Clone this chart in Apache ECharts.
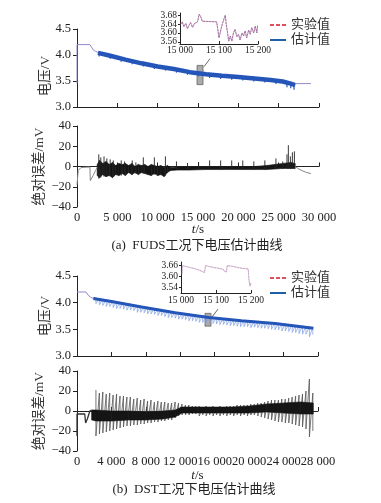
<!DOCTYPE html>
<html>
<head>
<meta charset="utf-8">
<script src="https://cdn.jsdelivr.net/npm/echarts@6/dist/echarts.min.js"></script>
<style>
  html, body { margin: 0; padding: 0; background: #fff; }
  #chart { width: 381px; height: 503px; }
</style>
</head>
<body>
<div id="chart"></div>
<script>
// ---------- tick labels ----------
const fudsXTicks = ['0', '5 000', '10 000', '15 000', '20 000', '25 000', '30 000'];
const dstXTicks = ['0', '4 000', '8 000', '12 000', '16 000', '20 000', '24 000', '28 000'];
const voltTicks = ['3.0', '3.5', '4.0', '4.5'];
const errTicks = ['−40', '−20', '0', '20', '40'];
const insetXTicks = ['15 000', '15 100', '15 200'];
const insetAYTicks = [3.56, 3.60, 3.64, 3.68];
const insetBYTicks = [3.54, 3.60, 3.66];

// ---------- (a) FUDS voltage ----------
const fudsPreT = [0, 0, 1600, 1800, 2000, 2300, 2600];
const fudsPreV = [3.45, 4.2, 4.2, 4.15, 4.1, 4.07, 4.05];
const fudsTailT = [27050, 29000];
const fudsTailV = [3.45, 3.45];
const fudsBandT = [2600, 4000, 6000, 8000, 10000, 12000, 14000, 16000, 18000, 20000, 22000, 24000, 25500, 26500, 27050];
const fudsEstV = [4.04, 3.99, 3.91, 3.84, 3.78, 3.73, 3.67, 3.63, 3.60, 3.575, 3.55, 3.52, 3.49, 3.45, 3.42];
const fudsExpV = [4.05, 3.995, 3.915, 3.845, 3.785, 3.735, 3.675, 3.635, 3.605, 3.58, 3.555, 3.525, 3.495, 3.455, 3.425];
const fudsVSpikeT = [2740, 4110, 5480, 6850, 8220, 9590, 10960, 12330, 13700, 15070, 16440, 17810, 19180, 20550, 21920, 23290, 24660, 26030, 26500, 26900];
const fudsVSpikeTop = [4.05, 4.0, 3.945, 3.89, 3.845, 3.80, 3.765, 3.73, 3.69, 3.66, 3.63, 3.61, 3.595, 3.58, 3.56, 3.54, 3.515, 3.48, 3.47, 3.44];
const fudsVSpikeLow = [3.97, 3.93, 3.87, 3.82, 3.78, 3.73, 3.70, 3.66, 3.62, 3.59, 3.56, 3.54, 3.525, 3.51, 3.49, 3.47, 3.44, 3.38, 3.36, 3.33];

// ---------- (a) FUDS error ----------
const fudsErrPreT = [0, 150, 500, 1600, 1650, 2000, 2300, 2500];
const fudsErrPreV = [-18, -4, -1, -0.5, -14, -9, -4, -1];
const fudsErrTailT = [27050, 27500, 28000, 28500, 29000];
const fudsErrTailV = [0, -2.5, -4.5, -6, -7];
const fudsErrBandT = [2500, 2800, 3200, 3600, 4000, 4400, 4800, 5200, 5600, 6000, 6400, 6800, 7200, 7600, 8000, 8400, 8800, 9200, 9600, 10000, 10400, 10800, 11200, 11600, 12500, 14000, 16000, 18000, 20000, 22000, 23500, 24500, 25500, 26500, 27050];
const fudsErrBandHi = [2, 6, 3, 5, 2, 4, 1, 3, 2, 3, 1, 3, 0, 2, 1, 2, 0, 2, 1, 0, 1, -1, 1, -1, -0.5, -0.5, -0.5, -0.5, 0, 0, 1, 2, 3, 4, 3];
const fudsErrBandLo = [-9, -11, -8, -10, -9, -11, -8, -9, -7, -9, -6, -8, -6, -8, -6, -7, -8, -9, -7, -9, -8, -10, -6, -4, -3.5, -3.5, -3, -3, -3, -3, -3, -2.5, -2, -2, -2];
const fudsErrSpikeT = [2700, 2950, 3350, 3700, 4110, 4500, 5480, 5900, 6850, 7300, 8220, 9590, 10960, 12330, 13700, 15070, 16440, 17810, 19180, 20550, 21920, 23290, 24660, 25500, 26030, 26200, 26450, 26700, 26950];
const fudsErrSpikeHi = [12, 9, 10, 8, 7, 6, 6, 5, 6, 4, 9, 9, 10, 5, 3.5, 4.5, 6, 6, 6, 6, 5, 6, 8, 5, 12, 21, 10, 14, 15];
const fudsErrSpikeLo = [-12, -11, -10, -9, -9, -10, -9, -8, -8, -7, -7, -8, -9, -3, -3, -3, -3, -3, -3, -3, -3, -3, -2, -2, -2, -2, -2, -2, -2];

// ---------- (a) inset 15 000–15 200 s ----------
const insetAT = [15002, 15006, 15010, 15015, 15019, 15023, 15027, 15032, 15036, 15040, 15045, 15049, 15053, 15057, 15094, 15097, 15100, 15105, 15109, 15113, 15116, 15118, 15122, 15125, 15129, 15133, 15137, 15141, 15146, 15150, 15154, 15159, 15163, 15167, 15171, 15176, 15180, 15184, 15189, 15193, 15197, 15199];
const insetAV = [3.639, 3.65, 3.628, 3.643, 3.619, 3.634, 3.647, 3.625, 3.64, 3.631, 3.65, 3.685, 3.674, 3.653, 3.65, 3.648, 3.578, 3.616, 3.643, 3.665, 3.68, 3.647, 3.60, 3.563, 3.586, 3.563, 3.60, 3.616, 3.583, 3.594, 3.568, 3.60, 3.586, 3.609, 3.578, 3.613, 3.594, 3.624, 3.60, 3.631, 3.60, 3.634];

// ---------- (b) DST voltage ----------
const dstPreT = [0, 1050, 1300, 1600, 1900];
const dstPreV = [4.2, 4.2, 4.14, 4.10, 4.08];
const dstTrendT = [1900, 4000, 7500, 11400, 15300, 19100, 23000, 27450];
const dstEstV = [4.08, 4.02, 3.92, 3.81, 3.72, 3.66, 3.61, 3.52];
const dstExpV = [4.09, 4.03, 3.925, 3.815, 3.725, 3.665, 3.615, 3.525];
const dstT = [2200, 2600, 3000, 3400, 3800, 4200, 4600, 5000, 5400, 5800,
  6200, 6600, 7000, 7400, 7800, 8200, 8600, 9000, 9400, 9800,
  10200, 10600, 11000, 11400, 11800, 12200, 12600, 13000, 13400, 13800,
  14200, 14600, 15000, 15400, 15800, 16200, 16600, 17000, 17400, 17800,
  18200, 18600, 19000, 19400, 19800, 20200, 20600, 21000, 21400, 21800,
  22200, 22600, 23000, 23400, 23800, 24200, 24600, 25000, 25400, 25800,
  26200, 26600, 27000, 27400];
const dstVTop = [4.09, 4.08, 4.07, 4.06, 4.05, 4.03, 4.02, 4.01, 4.00, 3.99,
  3.98, 3.97, 3.95, 3.94, 3.93, 3.92, 3.91, 3.90, 3.89, 3.88,
  3.86, 3.85, 3.84, 3.83, 3.82, 3.81, 3.80, 3.79, 3.78, 3.77,
  3.76, 3.75, 3.74, 3.74, 3.73, 3.72, 3.72, 3.71, 3.70, 3.70,
  3.69, 3.68, 3.68, 3.67, 3.67, 3.66, 3.66, 3.65, 3.65, 3.64,
  3.64, 3.63, 3.63, 3.62, 3.61, 3.61, 3.60, 3.59, 3.58, 3.57,
  3.57, 3.56, 3.55, 3.54];
const dstVLow = [3.98, 3.96, 3.95, 3.93, 3.93, 3.91, 3.89, 3.89, 3.88, 3.86,
  3.86, 3.85, 3.82, 3.82, 3.81, 3.79, 3.79, 3.78, 3.76, 3.76,
  3.74, 3.72, 3.72, 3.71, 3.69, 3.69, 3.68, 3.66, 3.66, 3.65,
  3.63, 3.63, 3.62, 3.61, 3.61, 3.60, 3.59, 3.59, 3.58, 3.57,
  3.57, 3.56, 3.55, 3.55, 3.55, 3.53, 3.54, 3.53, 3.52, 3.52,
  3.51, 3.50, 3.49, 3.49, 3.47, 3.47, 3.46, 3.44, 3.44, 3.42,
  3.41, 3.41, 3.36, 3.40];

// ---------- (b) DST error ----------
const dstErrPreT = [0, 0, 900, 1000, 1200, 1500, 1700];
const dstErrPreV = [-25, -3, -3, -12, -8, 0, 1];
const dstErrBandT = [1700, 2200, 4000, 6000, 8000, 10000, 11400, 12200, 14000, 16000, 18000, 20000, 22000, 24000, 26000, 27450];
const dstErrBandHi = [1, 1, 0, 0, -1, 0, 1, 4, 4, 4, 4, 5, 7, 8, 9, 8];
const dstErrBandLo = [-9, -10, -10, -9, -9, -8, -6, -2, -2, -2, -2, -2, -1, -2, -3, -3];
const dstErrHi = [21, 18, 19, 17, 18, 16, 17, 15, 15, 14,
  14, 12, 13, 11, 12, 10, 11, 9, 10, 9,
  9, 8, 8, 9, 8, 7, 6, 6, 5, 5,
  5, 4, 5, 4, 5, 4, 5, 4, 5, 5,
  5, 6, 6, 6, 6, 7, 7, 8, 8, 9,
  10, 11, 11, 11, 12, 12, 13, 14, 15, 16,
  17, 20, 32, 18];
const dstErrLo = [-25, -23, -22, -21, -20, -19, -18, -17, -16, -15,
  -15, -14, -14, -13, -13, -12, -12, -11, -11, -10,
  -10, -9, -9, -7, -5, -4, -4, -4, -3, -3,
  -5, -4, -5, -4, -5, -4, -5, -4, -5, -4,
  -5, -4, -5, -4, -5, -4, -4, -5, -6, -7,
  -8, -9, -10, -11, -11, -12, -12, -13, -14, -15,
  -16, -18, -26, -20];

// ---------- (b) inset ----------
const insetBT = [15003, 15004, 15021, 15024, 15040, 15043, 15054, 15057, 15067, 15070, 15088, 15091, 15102, 15105, 15121, 15124, 15130, 15132, 15150, 15153, 15169, 15172, 15192, 15194, 15197, 15199, 15200];
const insetBV = [3.612, 3.66, 3.652, 3.645, 3.643, 3.636, 3.634, 3.627, 3.622, 3.66, 3.652, 3.648, 3.647, 3.641, 3.64, 3.628, 3.626, 3.66, 3.655, 3.648, 3.647, 3.643, 3.642, 3.585, 3.548, 3.54, 3.565];

// ---------- helpers ----------
const FONT = "'Liberation Serif', 'Noto Sans CJK SC', serif";
const INK = '#222';
const RED = '#e0505a';
const BLUE = '#2455b8';
const LAVENDER = '#8f8bcc';

const pts = (xs, ys) => xs.map((x, i) => [x, ys[i]]);
const segs = (xs, lo, hi) => xs.map((x, i) => [x, lo[i], hi[i]]);
const zigzag = (xs, lo, hi) => xs.flatMap((x, i) => [[x, hi[i]], [x, lo[i]]]);
const bandSegs = (xs, lo, hi) => xs.slice(0, -1).map((x, i) => [x, lo[i], hi[i], xs[i + 1], lo[i + 1], hi[i + 1]]);

function xAxisCfg(gridIndex, min, max, interval, labels, extra) {
  return Object.assign({
    type: 'value', gridIndex, min, max, interval,
    axisLine: { show: true, lineStyle: { color: INK, width: 1 } },
    axisTick: { show: true, inside: true, length: 4, lineStyle: { color: INK } },
    splitLine: { show: false },
    axisLabel: labels
      ? { show: true, margin: 4, color: INK, fontFamily: FONT, fontSize: 12.5,
          formatter: v => labels[Math.round((v - min) / interval)] }
      : { show: false }
  }, extra || {});
}

function yAxisCfg(gridIndex, min, max, interval, labels, name, nameGap, namePad) {
  return {
    type: 'value', gridIndex, min, max, interval,
    name, nameLocation: 'middle', nameGap, nameMoveOverlap: false,
    nameTextStyle: { fontFamily: FONT, fontSize: 13.5, color: '#333', padding: namePad || 0 },
    axisLine: { show: true, lineStyle: { color: INK, width: 1 } },
    axisTick: { show: true, length: 4, lineStyle: { color: INK } },
    splitLine: { show: false },
    axisLabel: { margin: 6, color: INK, fontFamily: FONT, fontSize: 12.5,
      formatter: v => labels[Math.round((v - min) / interval)] }
  };
}

function insetX(gridIndex, margin) {
  return {
    type: 'value', gridIndex, min: 15000, max: 15200, interval: 100,
    axisLine: { show: true, lineStyle: { color: INK, width: 1 } },
    axisTick: { show: true, inside: true, length: 3, lineStyle: { color: INK } },
    splitLine: { show: false },
    axisLabel: { margin, color: INK, fontFamily: FONT, fontSize: 9.5,
      formatter: v => insetXTicks[Math.round((v - 15000) / 100)] }
  };
}

// the inset labels sit closer than their own height, so each y axis may be split in two
function insetY(gridIndex, min, max, ticks, lineShown) {
  return {
    type: 'value', gridIndex, min, max, position: 'left',
    axisLine: { show: lineShown, lineStyle: { color: INK, width: 1 } },
    axisTick: { show: true, length: 2, customValues: ticks, lineStyle: { color: INK } },
    splitLine: { show: false },
    axisLabel: { margin: 3, color: INK, fontFamily: FONT, fontSize: 9.5,
      showMinLabel: true, showMaxLabel: true,
      customValues: ticks, formatter: v => v.toFixed(2) }
  };
}

function lineS(axis, data, color, width, extra) {
  return Object.assign({
    type: 'line', xAxisIndex: axis, yAxisIndex: axis, data,
    symbol: 'none', silent: true, animation: false,
    itemStyle: { color },
    lineStyle: { color, width }
  }, extra || {});
}

function spikeRenderer(color, width, opacity) {
  return function (params, api) {
    const p1 = api.coord([api.value(0), api.value(1)]);
    const p2 = api.coord([api.value(0), api.value(2)]);
    return {
      type: 'line',
      shape: { x1: p1[0], y1: p1[1], x2: p2[0], y2: p2[1] },
      style: { stroke: color, lineWidth: width, opacity }
    };
  };
}

function spikeS(axis, data, color, width, opacity, z) {
  return {
    type: 'custom', xAxisIndex: axis, yAxisIndex: axis, data,
    encode: { x: 0, y: [1, 2] }, silent: true, z,
    renderItem: spikeRenderer(color, width, opacity)
  };
}

// band between a lower and an upper envelope, drawn piece by piece
function bandRenderer(color) {
  return function (params, api) {
    const a = api.coord([api.value(0), api.value(1)]);
    const b = api.coord([api.value(3), api.value(4)]);
    const c = api.coord([api.value(3), api.value(5)]);
    const d = api.coord([api.value(0), api.value(2)]);
    return {
      type: 'polygon',
      shape: { points: [a, b, c, d] },
      style: { fill: color, stroke: color, lineWidth: 0.6 }
    };
  };
}

function bandS(axis, ts, lo, hi, color, z) {
  return {
    type: 'custom', xAxisIndex: axis, yAxisIndex: axis, data: bandSegs(ts, lo, hi),
    encode: { x: [0, 3], y: [1, 2, 4, 5] }, silent: true, z,
    renderItem: bandRenderer(color)
  };
}

const boxStyle = { color: 'rgba(150,150,150,0.8)', borderColor: '#666', borderWidth: 0.8 };
const linkStyle = { color: '#444', width: 0.8, type: 'solid' };

const chart = echarts.init(document.getElementById('chart'));

const legendCommon = {
  orient: 'vertical', padding: 0, itemWidth: 16, itemHeight: 2, itemGap: 2,
  selectedMode: false,
  data: [
    { name: '实验值', icon: 'path://M0,0h4v2h-4z M6,0h4v2h-4z M12,0h4v2h-4z', itemStyle: { color: RED } },
    { name: '估计值', icon: 'rect', itemStyle: { color: '#1f5fa8' } }
  ],
  textStyle: { fontFamily: FONT, fontSize: 13, lineHeight: 13, color: '#333' }
};

const option = {
  animation: false,
  backgroundColor: '#fff',
  title: [
    { text: '(a)  FUDS工况下电压估计曲线', left: 197, top: 239, textAlign: 'center', padding: 0,
      textStyle: { fontFamily: FONT, fontSize: 13, fontWeight: 'normal', color: INK } },
    { text: '(b)  DST工况下电压估计曲线', left: 194, top: 483, textAlign: 'center', padding: 0,
      textStyle: { fontFamily: FONT, fontSize: 13, fontWeight: 'normal', color: INK } }
  ],
  legend: [
    Object.assign({ left: 270, top: 18.5 }, legendCommon),
    Object.assign({ left: 270, top: 271.5 }, legendCommon)
  ],
  grid: [
    { left: 77, top: 29, width: 242, height: 78 },
    { left: 77, top: 126, width: 242, height: 81 },
    { left: 77, top: 276, width: 241, height: 80 },
    { left: 77, top: 371, width: 241, height: 80 },
    { left: 180, top: 13, width: 78, height: 31 },
    { left: 181, top: 262, width: 70, height: 31 }
  ],
  xAxis: [
    xAxisCfg(0, 0, 30000, 5000, null),
    xAxisCfg(1, 0, 30000, 5000, fudsXTicks, {
      name: '{i|t}/s', nameLocation: 'middle', nameGap: 16, nameMoveOverlap: false,
      nameTextStyle: { fontFamily: FONT, fontSize: 13, color: INK,
        rich: { i: { fontFamily: FONT, fontSize: 13, fontStyle: 'italic', color: INK } } }
    }),
    xAxisCfg(2, 0, 28000, 4000, null),
    xAxisCfg(3, 0, 28000, 4000, dstXTicks, {
      name: '{i|t}/s', nameLocation: 'middle', nameGap: 18, nameMoveOverlap: false,
      nameTextStyle: { fontFamily: FONT, fontSize: 13, color: INK,
        rich: { i: { fontFamily: FONT, fontSize: 13, fontStyle: 'italic', color: INK } } }
    }),
    insetX(4, 2),
    insetX(5, 3)
  ],
  yAxis: [
    yAxisCfg(0, 3, 4.5, 0.5, voltTicks, '电压/V', 25, [0, 16, 0, 0]),
    yAxisCfg(1, -40, 40, 20, errTicks, '绝对误差/mV', 31),
    yAxisCfg(2, 3, 4.5, 0.5, voltTicks, '电压/V', 25),
    yAxisCfg(3, -40, 40, 20, errTicks, '绝对误差/mV', 31),
    insetY(4, 3.55, 3.69, [insetAYTicks[0], insetAYTicks[2]], true),
    insetY(5, 3.51, 3.68, insetBYTicks, true),
    insetY(4, 3.55, 3.69, [insetAYTicks[1], insetAYTicks[3]], false)
  ],
  series: [
    // (a) voltage
    lineS(0, pts(fudsBandT, fudsExpV), RED, 1.2, { name: '实验值', z: 2, lineStyle: { color: RED, width: 1.2, type: [3, 2] } }),
    lineS(0, pts(fudsPreT, fudsPreV), LAVENDER, 1, { z: 3 }),
    lineS(0, pts(fudsBandT, fudsEstV), BLUE, 4.5, { name: '估计值', z: 3 }),
    spikeS(0, segs(fudsVSpikeT, fudsVSpikeLow, fudsVSpikeTop), BLUE, 1.2, 1, 3),
    lineS(0, pts(fudsTailT, fudsTailV), LAVENDER, 1, {
      z: 5,
      markArea: { silent: true, itemStyle: boxStyle, data: [[{ coord: [14880, 3.43] }, { coord: [15620, 3.80] }]] },
      markLine: { silent: true, symbol: ['none', 'none'], label: { show: false }, lineStyle: linkStyle,
        data: [[{ coord: [15740, 3.775] }, { coord: [16490, 3.93] }]] }
    }),

    // (a) error
    lineS(1, pts(fudsErrPreT, fudsErrPreV), '#888', 1),
    lineS(1, pts(fudsErrTailT, fudsErrTailV), '#888', 1),
    bandS(1, fudsErrBandT, fudsErrBandLo, fudsErrBandHi, '#151515', 2),
    spikeS(1, segs(fudsErrSpikeT, fudsErrSpikeLo, fudsErrSpikeHi), '#222', 1, 0.9, 3),

    // (b) voltage
    lineS(2, pts(dstTrendT, dstExpV), RED, 1.2, { name: '实验值', z: 2, lineStyle: { color: RED, width: 1.2, type: [3, 2] } }),
    lineS(2, zigzag(dstT, dstVLow, dstVTop), '#7f9fe2', 0.8, { z: 2, lineStyle: { color: '#7f9fe2', width: 0.8, opacity: 0.9 } }),
    lineS(2, pts(dstTrendT, dstEstV), BLUE, 3, { name: '估计值', z: 3 }),
    lineS(2, pts(dstPreT, dstPreV), LAVENDER, 1, {
      z: 5,
      markArea: { silent: true, itemStyle: boxStyle, data: [[{ coord: [14870, 3.56] }, { coord: [15570, 3.80] }]] },
      markLine: { silent: true, symbol: ['none', 'none'], label: { show: false }, lineStyle: linkStyle,
        data: [[{ coord: [15685, 3.73] }, { coord: [16380, 3.88] }]] }
    }),

    // (b) error
    lineS(3, pts(dstErrPreT, dstErrPreV), '#333', 1.3),
    lineS(3, zigzag(dstT, dstErrLo, dstErrHi), '#555', 0.8, { z: 2 }),
    bandS(3, dstErrBandT, dstErrBandLo, dstErrBandHi, '#151515', 3),

    // insets
    lineS(4, pts(insetAT, insetAV), RED, 0.8, { lineStyle: { color: RED, width: 0.8, type: [2, 1] } }),
    lineS(4, pts(insetAT, insetAV), '#7b74c4', 0.9, { lineStyle: { color: '#7b74c4', width: 0.9, opacity: 0.6 } }),
    lineS(5, pts(insetBT, insetBV), RED, 0.7, { lineStyle: { color: '#e08a9a', width: 0.7, type: [2, 1] } }),
    lineS(5, pts(insetBT, insetBV), '#a59bd0', 0.8, { lineStyle: { color: '#a59bd0', width: 0.8, opacity: 0.6 } })
  ]
};

chart.setOption(option);
</script>
</body>
</html>
